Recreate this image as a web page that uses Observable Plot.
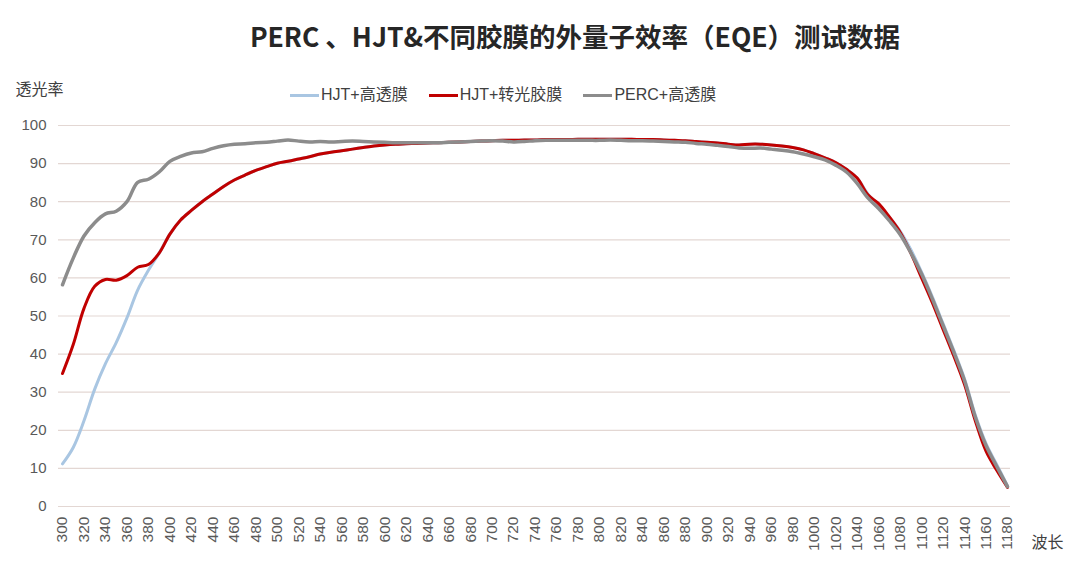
<!DOCTYPE html>
<html>
<head>
<meta charset="utf-8">
<script src="https://cdn.jsdelivr.net/npm/d3@7"></script>
<script src="https://cdn.jsdelivr.net/npm/@observablehq/plot@0.6"></script>
<style>
  html, body { margin: 0; padding: 0; background: #fff; }
  body { width: 1080px; height: 569px; overflow: hidden; font-family: "Noto Sans CJK SC", "Liberation Sans", sans-serif; }
  #title { height: 70px; box-sizing: border-box; padding-top: 18px; text-align: center; padding-left: 70px;
           font-family: "Noto Sans CJK SC", sans-serif; font-weight: bold; font-size: 26.5px; color: #262626; line-height: 36px; }
  #wrap { position: relative; width: 1080px; }
  #legend { position: absolute; left: 290px; top: 15px; display: flex; align-items: center; font-size: 16px; color: #404040;
            font-family: "Liberation Sans", "Noto Sans CJK SC", sans-serif; line-height: 20px; }
  .item { display: flex; align-items: center; margin-right: 21px; }
  .sw { width: 29px; height: 3px; margin-right: 2px; }
</style>
</head>
<body>
<div id="title">PERC 、HJT&amp;不同胶膜的外量子效率（EQE）测试数据</div>
<div id="wrap"><div id="legend"></div></div>
<script>
const wavelengths = [300,310,320,330,340,350,360,370,380,390,400,410,420,430,440,450,460,470,480,490,500,510,520,530,540,550,560,570,580,590,600,610,620,630,640,650,660,670,680,690,700,710,720,730,740,750,760,770,780,790,800,810,820,830,840,850,860,870,880,890,900,910,920,930,940,950,960,970,980,990,1000,1010,1020,1030,1040,1050,1060,1070,1080,1090,1100,1110,1120,1130,1140,1150,1160,1170,1180];

const hjtHighTrans = [11.2,15.5,22.5,30.8,37.5,43.0,49.5,56.8,62.0,66.5,71.5,75.2,77.7,80.0,82.0,84.0,85.7,87.0,88.2,89.2,90.1,90.6,91.2,91.8,92.5,93.0,93.4,93.8,94.2,94.6,94.9,95.1,95.2,95.3,95.4,95.5,95.6,95.7,95.8,95.9,96.0,96.1,96.1,96.2,96.2,96.3,96.3,96.3,96.4,96.4,96.4,96.4,96.4,96.4,96.3,96.3,96.2,96.1,96.0,95.8,95.6,95.4,95.1,94.9,95.1,95.1,94.9,94.6,94.2,93.6,92.6,91.5,90.3,88.5,86.2,82.0,79.1,75.9,72.3,67.4,61.5,55.0,48.0,41.0,33.5,24.0,16.5,11.0,5.4];

const hjtConvert = [34.9,42.5,52.0,57.8,59.6,59.4,60.6,62.8,63.5,66.5,71.5,75.2,77.7,80.0,82.0,84.0,85.7,87.0,88.2,89.2,90.1,90.6,91.2,91.8,92.5,93.0,93.4,93.8,94.2,94.6,94.9,95.1,95.2,95.3,95.4,95.5,95.6,95.7,95.8,95.9,96.0,96.1,96.1,96.2,96.2,96.3,96.3,96.3,96.4,96.4,96.4,96.4,96.4,96.4,96.3,96.3,96.2,96.1,96.0,95.8,95.6,95.4,95.1,94.9,95.1,95.1,94.9,94.6,94.2,93.6,92.6,91.5,90.3,88.5,86.2,81.8,79.5,76.0,72.0,66.5,60.0,53.5,46.5,39.5,32.0,22.5,14.5,9.5,5.0];

const percHighTrans = [58.2,65.2,71.0,74.5,76.8,77.5,80.0,85.1,85.9,87.8,90.6,91.9,92.8,93.1,94.0,94.7,95.1,95.2,95.5,95.6,95.9,96.2,95.9,95.7,95.8,95.7,95.8,95.9,95.8,95.7,95.6,95.5,95.5,95.5,95.5,95.5,95.6,95.7,95.8,95.9,96.0,95.9,95.7,95.8,96.0,96.1,96.1,96.1,96.1,96.1,96.1,96.2,96.1,96.0,96.0,95.9,95.8,95.7,95.6,95.3,95.1,94.8,94.5,94.1,94.0,94.1,93.8,93.5,93.1,92.5,91.8,91.0,89.6,87.8,84.8,81.0,78.2,75.0,71.4,66.6,61.0,54.5,47.5,40.5,33.0,23.5,16.0,10.5,5.2];

const seriesNames = ["HJT+高透膜", "HJT+转光胶膜", "PERC+高透膜"];
const seriesColors = ["#a9c6e2", "#c00000", "#8c8c8c"];
const seriesWidths = [3, 3, 3.5];
const xTicks = [300,320,340,360,380,400,420,440,460,480,500,520,540,560,580,600,620,640,660,680,700,720,740,760,780,800,820,840,860,880,900,920,940,960,980,1000,1020,1040,1060,1080,1100,1120,1140,1160,1180];
const yTicks = [0,10,20,30,40,50,60,70,80,90,100];
const yLabel = "透光率";
const xLabel = "波长";

const seriesValues = [hjtHighTrans, hjtConvert, percHighTrans];
const rows = [];
seriesValues.forEach((vals, si) => {
  vals.forEach((v, i) => rows.push({series: seriesNames[si], x: wavelengths[i], y: v}));
});

// legend
const legend = document.getElementById("legend");
seriesNames.forEach((n, i) => {
  const it = document.createElement("div");
  it.className = "item";
  const sw = document.createElement("div");
  sw.className = "sw";
  sw.style.background = seriesColors[i];
  const tx = document.createElement("span");
  tx.textContent = n;
  it.appendChild(sw); it.appendChild(tx);
  legend.appendChild(it);
});

const lineMarks = seriesNames.map((n, i) =>
  Plot.line(rows.filter(d => d.series === n), {
    x: "x", y: "y", stroke: seriesColors[i], strokeWidth: seriesWidths[i],
    curve: "catmull-rom", strokeLinejoin: "round", strokeLinecap: "round"
  })
);

const chart = Plot.plot({
  width: 1080,
  height: 499,
  marginTop: 55,
  marginBottom: 63,
  marginLeft: 62,
  marginRight: 73,
  style: { fontFamily: "'Liberation Sans', 'Noto Sans CJK SC', sans-serif", fontSize: "15px", color: "#595959", background: "#fff" },
  x: { type: "linear", domain: [300, 1180] },
  y: { domain: [0, 100] },
  marks: [
    Plot.ruleY(yTicks, { stroke: "#e3d7d3", strokeWidth: 1.2, insetLeft: -4, insetRight: -3 }),
    Plot.axisY({ ticks: yTicks, tickSize: 0, tickPadding: 16, label: null, fontSize: 15 }),
    Plot.axisX({ ticks: xTicks, tickSize: 0, tickPadding: 10, tickRotate: -90, label: null, fontSize: 15.5, tickFormat: d => String(d) }),
    ...lineMarks,
    Plot.text([yLabel], { frameAnchor: "top-left", dx: -23, dy: -36, textAnchor: "middle", lineAnchor: "middle", fontSize: 16, fill: "#404040", fontFamily: "'Noto Sans CJK SC', sans-serif" }),
    Plot.text([xLabel], { frameAnchor: "bottom-right", dx: 40, dy: 36, textAnchor: "middle", lineAnchor: "middle", fontSize: 16, fill: "#404040", fontFamily: "'Noto Sans CJK SC', sans-serif" })
  ]
});
document.getElementById("wrap").appendChild(chart);
</script>
</body>
</html>
